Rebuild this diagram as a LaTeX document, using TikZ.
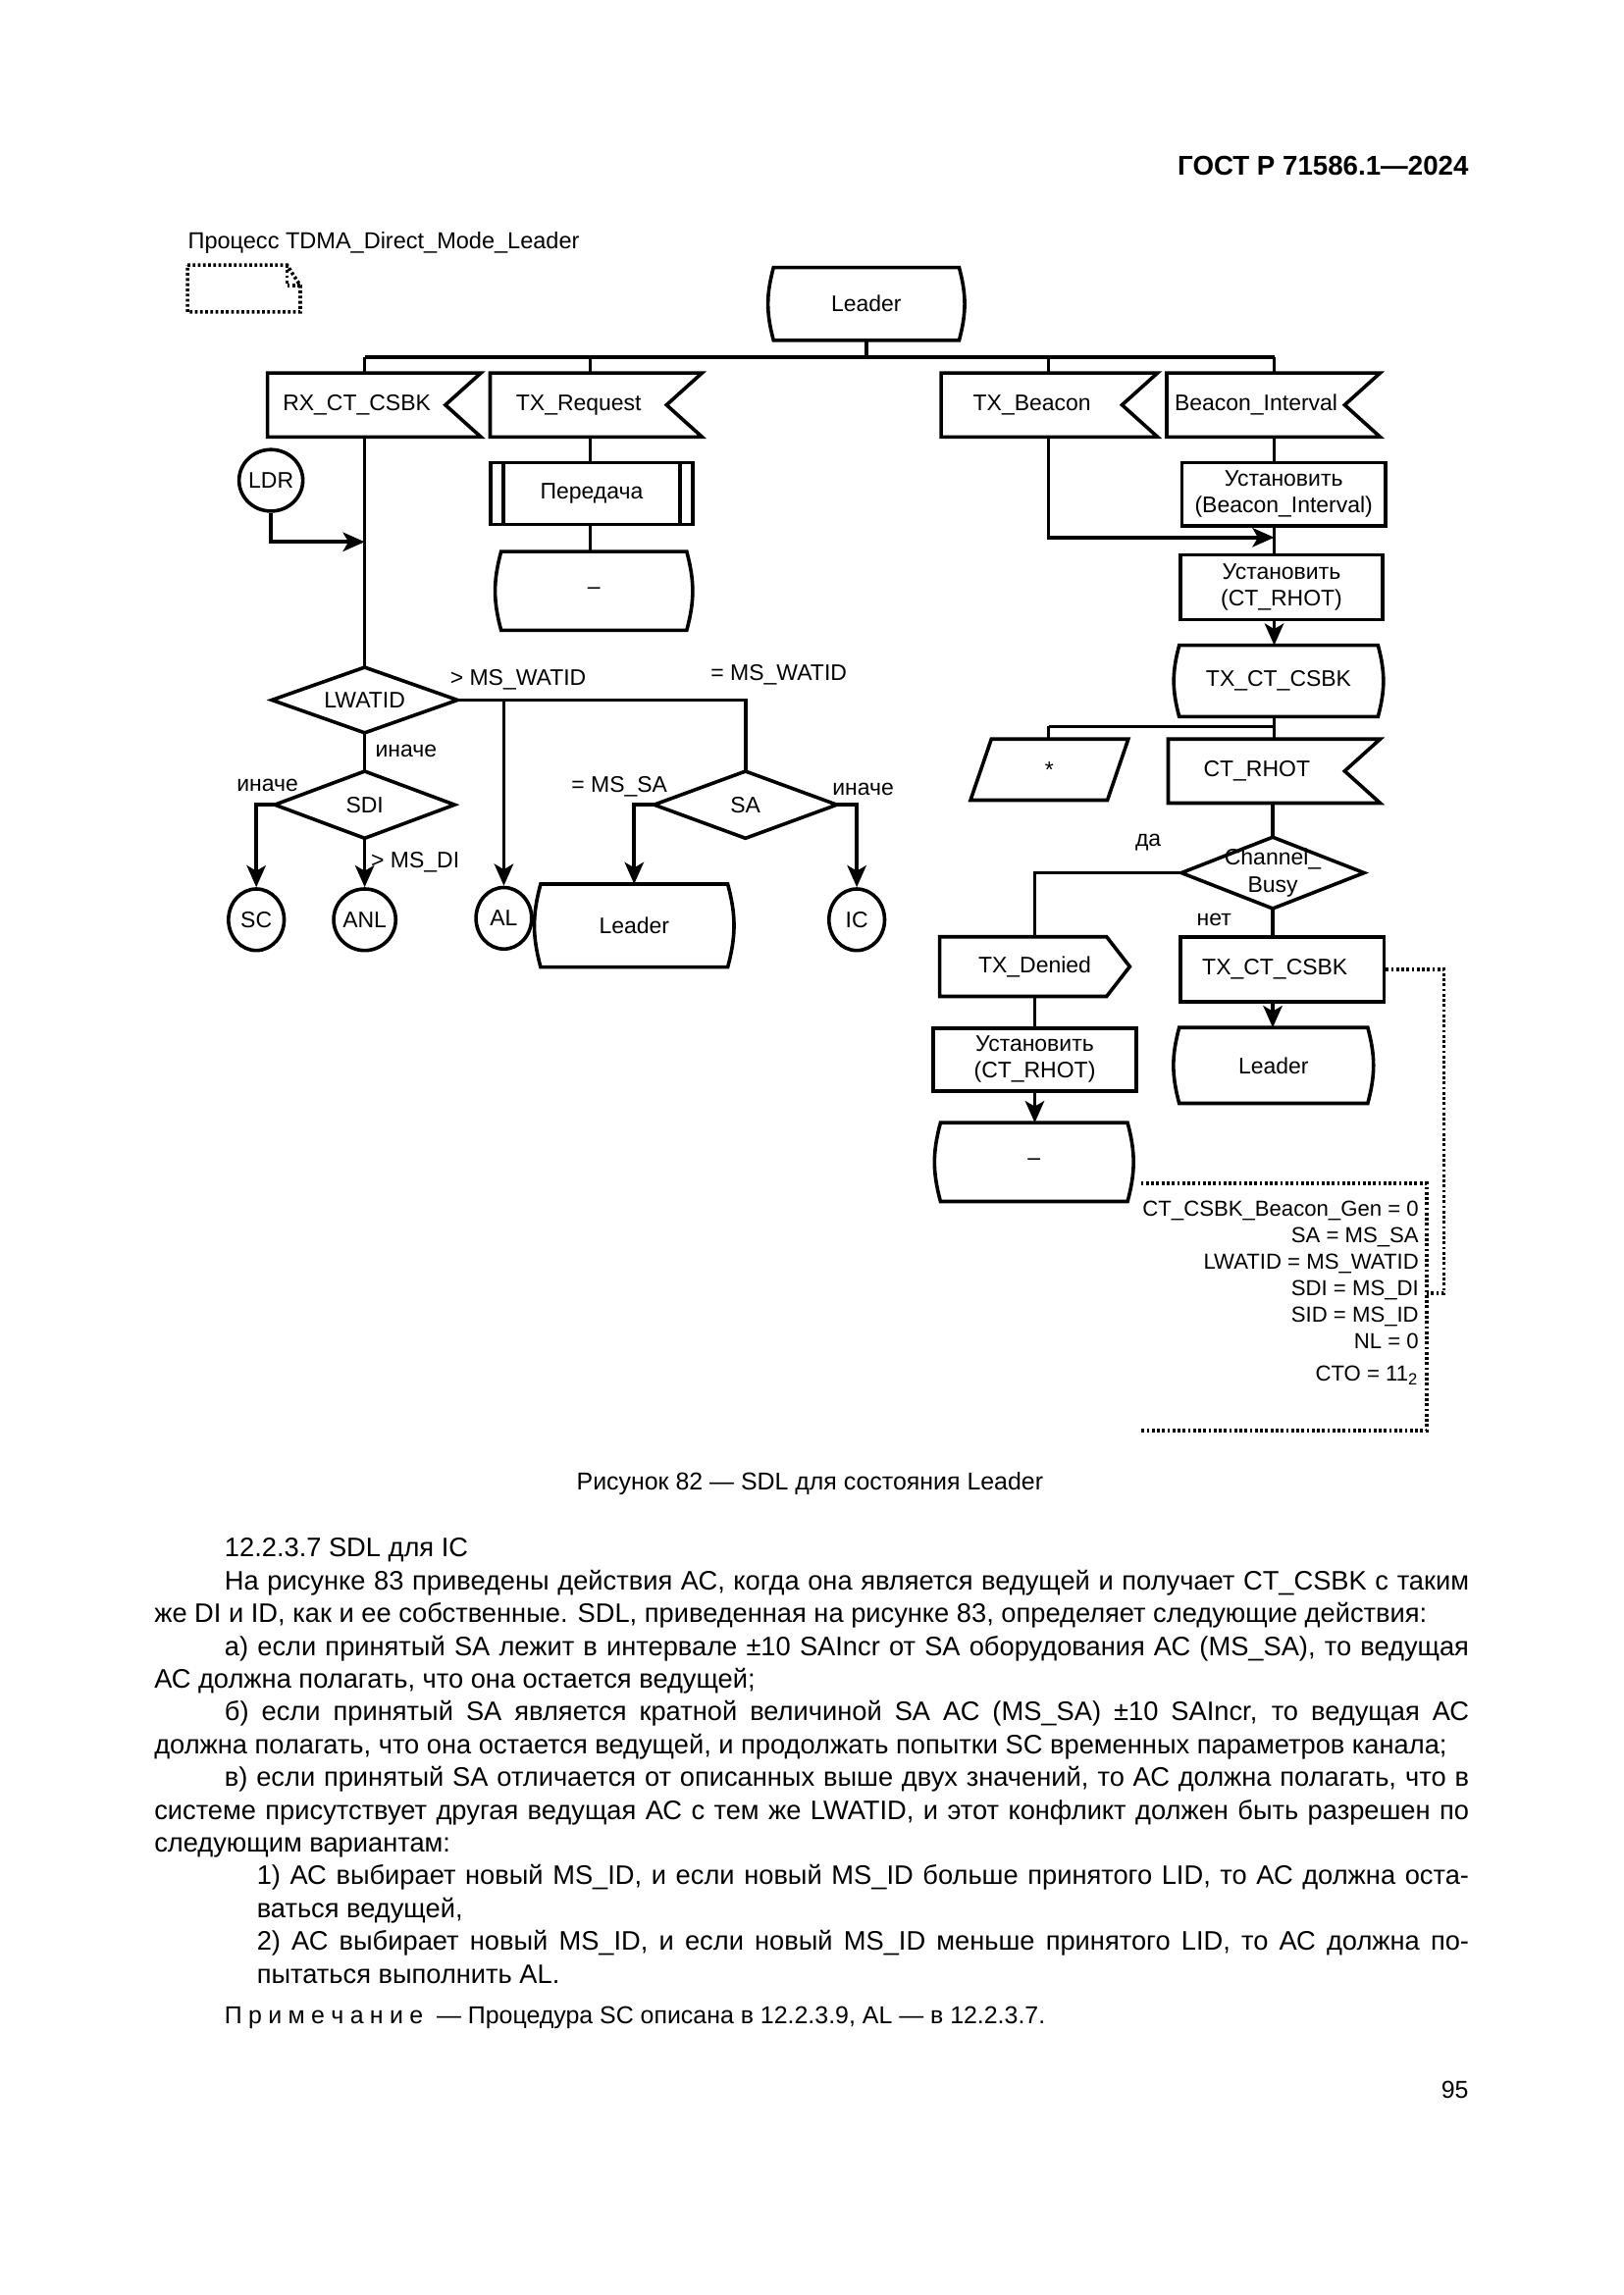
\documentclass[tikz,border=0pt]{standalone}
\usepackage{fontspec}
\setmainfont{Liberation Sans}
\usetikzlibrary{arrows.meta,shapes.geometric}
\def\un{0.1895mm}
\newcommand\dfont{\fontsize{8.3}{9.8}\selectfont}
\tikzset{
  ln/.style={line width=1.3pt, line join=miter},
  arr/.style={ln, -{Stealth[length=8pt,width=7pt,inset=2pt]}},
  dotl/.style={line width=1.3pt, dash pattern=on 1pt off 0.9pt},
  mw/.style={minimum width={#1*0.1895mm}},
  mh/.style={minimum height={#1*0.1895mm}},
  sdlbase/.style={font=\dfont, inner sep=0pt, align=center, rectangle},
  lbl/.style={font=\dfont, inner sep=0pt},
  cmt/.style={font=\fontsize{8.0}{9.5}\selectfont, inner sep=0pt, anchor=east},
  statebox/.style={sdlbase, append after command={\pgfextra{\let\mn\tikzlastnode
     \draw[ln] (\mn.north west) -- (\mn.north east) to[out=-75,in=75] (\mn.south east) -- (\mn.south west) to[out=105,in=-105] (\mn.north west) -- cycle;}}},
  taskbox/.style={sdlbase, draw, ln},
  procbox/.style={sdlbase, draw, ln, append after command={\pgfextra{\let\mn\tikzlastnode
     \draw[ln] ([xshift=1.9mm]\mn.north west) -- ([xshift=1.9mm]\mn.south west);
     \draw[ln] ([xshift=-1.9mm]\mn.north east) -- ([xshift=-1.9mm]\mn.south east);}}},
  insig/.style={sdlbase, append after command={\pgfextra{\let\mn\tikzlastnode
     \draw[ln] (\mn.north west) -- (\mn.north east) -- ([xshift=-4.6mm]\mn.east) -- (\mn.south east) -- (\mn.south west) -- cycle;}}},
  outsig/.style={sdlbase, append after command={\pgfextra{\let\mn\tikzlastnode
     \draw[ln] (\mn.north west) -- ([xshift=-3mm]\mn.north east) -- (\mn.east) -- ([xshift=-3mm]\mn.south east) -- (\mn.south west) -- cycle;}}},
  decis/.style={sdlbase, append after command={\pgfextra{\let\mn\tikzlastnode
     \draw[ln] (\mn.north) -- (\mn.east) -- (\mn.south) -- (\mn.west) -- cycle;}}},
  iobox/.style={sdlbase, append after command={\pgfextra{\let\mn\tikzlastnode
     \draw[ln] (\mn.south west) -- ([xshift=2.7mm]\mn.north west) -- (\mn.north east) -- ([xshift=-2.7mm]\mn.south east) -- cycle;}}},
  conn/.style={ellipse, draw, ln, font=\dfont, inner sep=0pt, mw=38, mh=42},
}
\begin{document}
\begin{tikzpicture}[x=\un,y=-\un]
\fill[white] (0,0) rectangle (210mm,-296.96mm);
\useasboundingbox (0,0) rectangle (210mm,-296.96mm);

% header
\node[anchor=east, font=\bfseries\fontsize{10}{12}\selectfont, inner sep=0pt] (hdr) at (1003,113) {ГОСТ Р 71586.1—2024};
\node[anchor=west, inner sep=0pt, font=\fontsize{8.5}{10}\selectfont] (proc) at (128,166) {Процесс TDMA\_Direct\_Mode\_Leader};
\draw[dotl] (128,181) -- (196,181) -- (205,195) -- (205,213) -- (128,213) -- cycle;
\draw[dotl] (196,181) -- (196,195) -- (205,195);

% top state and bus
\node[statebox, mw=126, mh=49] (lead) at (591.5,207.5) {Leader};
\coordinate (busL) at (249,244);
\coordinate (busR) at (870,244);
\coordinate (d2) at (403,244);
\coordinate (d3) at (716,244);
\draw[ln] (lead.south) -- (lead.south |- busL);
\draw[ln] (busL) -- (busR);

\node[insig, mw=145, mh=43] (rx) at (255.5,276.5) {RX\_CT\_CSBK\hspace*{4.5mm}};
\node[insig, mw=144, mh=43] (txr) at (407,276.5) {TX\_Request\hspace*{4.5mm}};
\node[insig, mw=147, mh=43] (txb) at (716.5,276.5) {TX\_Beacon\hspace*{4.5mm}};
\node[insig, mw=145, mh=43] (bi) at (869.5,276.5) {Beacon\_Interval\hspace*{4.5mm}};
\draw[ln] (busL) -- (busL |- rx.north);
\draw[ln] (d2) -- (d2 |- txr.north);
\draw[ln] (d3) -- (d3 |- txb.north);
\draw[ln] (busR) -- (busR |- bi.north);

% left branch
\node[conn] (ldr) at (185,328) {LDR};
\coordinate (jL) at (249,370);
\draw[arr] (ldr.south) |- (jL);
\node[decis, mw=126, mh=44] (lw) at (249,478) {LWATID};
\draw[ln] (busL |- rx.south) -- (lw.north);

\node[procbox, mw=138, mh=42] (tx1) at (404,337) {Передача};
\draw[ln] (d2 |- txr.south) -- (d2 |- tx1.north);
\node[statebox, mw=126, mh=53] (st1) at (405.5,403.5) {–};
\draw[ln] (d2 |- tx1.south) -- (d2 |- st1.north);

\coordinate (jA) at (344,478);
\coordinate (jB) at (509,478);
\node[decis, mw=124, mh=45] (sa) at (509,549.5) {SA};
\draw[ln] (lw.east) -- (jB) -- (sa.north);
\node[conn] (al) at (344,627) {AL};
\draw[arr] (jA) -- (al.north);
\node[decis, mw=122, mh=45] (sdi) at (249,549.5) {SDI};
\draw[ln] (lw.south) -- (sdi.north);
\node[conn] (sc) at (175,628) {SC};
\node[conn] (anl) at (249,628) {ANL};
\node[conn] (ic) at (585,628) {IC};
\node[statebox, mw=127, mh=56] (ld2) at (433,632) {Leader};
\draw[arr] (sdi.west) -| (sc.north);
\draw[arr] (sdi.south) -- (anl.north);
\draw[arr] (sa.west) -| (ld2.north);
\draw[arr] (sa.east) -| (ic.north);

\node[lbl, anchor=west] (l1) at (307,464) {> MS\_WATID};
\node[lbl, anchor=west] (l2) at (485,461) {= MS\_WATID};
\node[lbl, anchor=west] (l3) at (256,513) {иначе};
\node[lbl, anchor=east] (l4) at (204,536) {иначе};
\node[lbl, anchor=west] (l5) at (253,589) {> MS\_DI};
\node[lbl, anchor=east] (l6) at (456,537) {= MS\_SA};
\node[lbl, anchor=west] (l7) at (568,539) {иначе};

% right branch
\coordinate (jR) at (870,367);
\draw[arr] (d3 |- txb.south) |- (jR);
\node[taskbox, mw=139, mh=43] (set1) at (876.5,337.5) {Установить\\(Beacon\_Interval)};
\draw[ln] (busR |- bi.south) -- (busR |- set1.north);
\node[taskbox, mw=138, mh=44] (set2) at (875,401) {Установить\\(CT\_RHOT)};
\draw[ln] (busR |- set1.south) -- (busR |- set2.north);
\node[statebox, mw=135, mh=48] (txc1) at (873,465) {TX\_CT\_CSBK};
\draw[arr] (busR |- set2.south) -- (busR |- txc1.north);
\coordinate (bus2L) at (716,496);
\coordinate (bus2R) at (870,496);
\draw[ln] (busR |- txc1.south) -- (bus2R) -- (bus2L);
\node[iobox, mw=107, mh=41] (star) at (716.5,525.5) {*};
\node[insig, mw=144, mh=43] (ctr) at (870,526.5) {CT\_RHOT\hspace*{4.5mm}};
\draw[ln] (bus2L) -- (bus2L |- star.north);
\draw[ln] (bus2R) -- (bus2R |- ctr.north);
\node[decis, mw=124, mh=48] (cb) at (869,596) {Channel\_\\Busy};
\draw[ln] (cb.north |- ctr.south) -- (cb.north);
\node[outsig, mw=129, mh=40] (txd) at (706.5,660) {TX\_Denied};
\draw[ln] (cb.west) -| (txd.north);
\node[taskbox, mw=139, mh=44] (txc2) at (875.5,662) {TX\_CT\_CSBK\hspace*{1.9mm}};
\draw[ln] (cb.south) -- (cb.south |- txc2.north);
\node[lbl] (yes) at (784,575) {да};
\node[lbl] (no) at (829,628) {нет};
\node[statebox, mw=128, mh=51] (ld3) at (869.5,727.5) {Leader};
\draw[arr] (cb.south |- txc2.south) -- (cb.south |- ld3.north);
\node[taskbox, mw=139, mh=43] (set3) at (706.5,723.5) {Установить\\(CT\_RHOT)};
\draw[ln] (txd.south) -- (txd.south |- set3.north);
\node[statebox, mw=127, mh=53] (st2) at (706,793.5) {–};
\draw[arr] (txd.south |- set3.south) -- (txd.south |- st2.north);

% comment
\coordinate (cmTL) at (779,808);
\coordinate (cmTR) at (974,808);
\coordinate (cmBR) at (974,977);
\coordinate (cmBL) at (779,977);
\coordinate (cmJ) at (974,883);
\coordinate (cmK) at (986,883);
\draw[dotl] (cmTL) -- (cmTR) -- (cmBR) -- (cmBL);
\draw[dotl] (txc2.east) -| (cmK) -- (cmJ);
\node[cmt] (c1) at (969,827) {CT\_CSBK\_Beacon\_Gen = 0};
\node[cmt] (c2) at (969,845) {SA = MS\_SA};
\node[cmt] (c3) at (969,863) {LWATID = MS\_WATID};
\node[cmt] (c4) at (969,881) {SDI = MS\_DI};
\node[cmt] (c5) at (969,899) {SID = MS\_ID};
\node[cmt] (c6) at (969,916) {NL = 0};
\node[cmt] (c7) at (969,939) {CTO = 11\textsubscript{2}};

% caption and text
\node[inner sep=0pt, font=\fontsize{9}{11}\selectfont] (cap) at (553,1013) {Рисунок 82 — SDL для состояния Leader};
\node[anchor=north west, inner sep=0pt, text width=170.1mm, align=justify, font=\fontsize{9.85}{12.07}\selectfont] (body) at (105,1050) {%
\tolerance=9999 \hyphenpenalty=10000 \parindent=9.1mm
\indent 12.2.3.7 SDL для IC\par
\indent На рисунке 83 приведены действия АС, когда она является ведущей и получает CT\_CSBK с таким\linebreak же DI и ID, как и ее собственные. SDL, приведенная на рисунке 83, определяет следующие действия:\par
\indent а) если принятый SA лежит в интервале ±10 SAIncr от SA оборудования АС (MS\_SA), то ведущая\linebreak АС должна полагать, что она остается ведущей;\par
\indent б) если принятый SA является кратной величиной SA АС (MS\_SA) ±10 SAIncr, то ведущая АС\linebreak должна полагать, что она остается ведущей, и продолжать попытки SC временных параметров канала;\par
\indent в) если принятый SA отличается от описанных выше двух значений, то АС должна полагать, что в\linebreak системе присутствует другая ведущая АС с тем же LWATID, и этот конфликт должен быть разрешен по\linebreak следующим вариантам:\par
\leftskip=13.27mm \parindent=0pt
1) АС выбирает новый MS\_ID, и если новый MS\_ID больше принятого LID, то АС должна оста-\linebreak ваться ведущей,\par
2) АС выбирает новый MS\_ID, и если новый MS\_ID меньше принятого LID, то АС должна по-\linebreak пытаться выполнить AL.\par};
\node[anchor=west, inner sep=0pt, font=\fontsize{9.0}{11}\selectfont] (note) at (153,1378) {П\kern2.3pt р\kern2.3pt и\kern2.3pt м\kern2.3pt е\kern2.3pt ч\kern2.3pt а\kern2.3pt н\kern2.3pt и\kern2.3pt е\ \ — Процедура SC описана в 12.2.3.9, AL — в 12.2.3.7.};
\node[anchor=east, inner sep=0pt, font=\fontsize{9}{11}\selectfont] (pg) at (1003,1427) {95};
\end{tikzpicture}
\end{document}
